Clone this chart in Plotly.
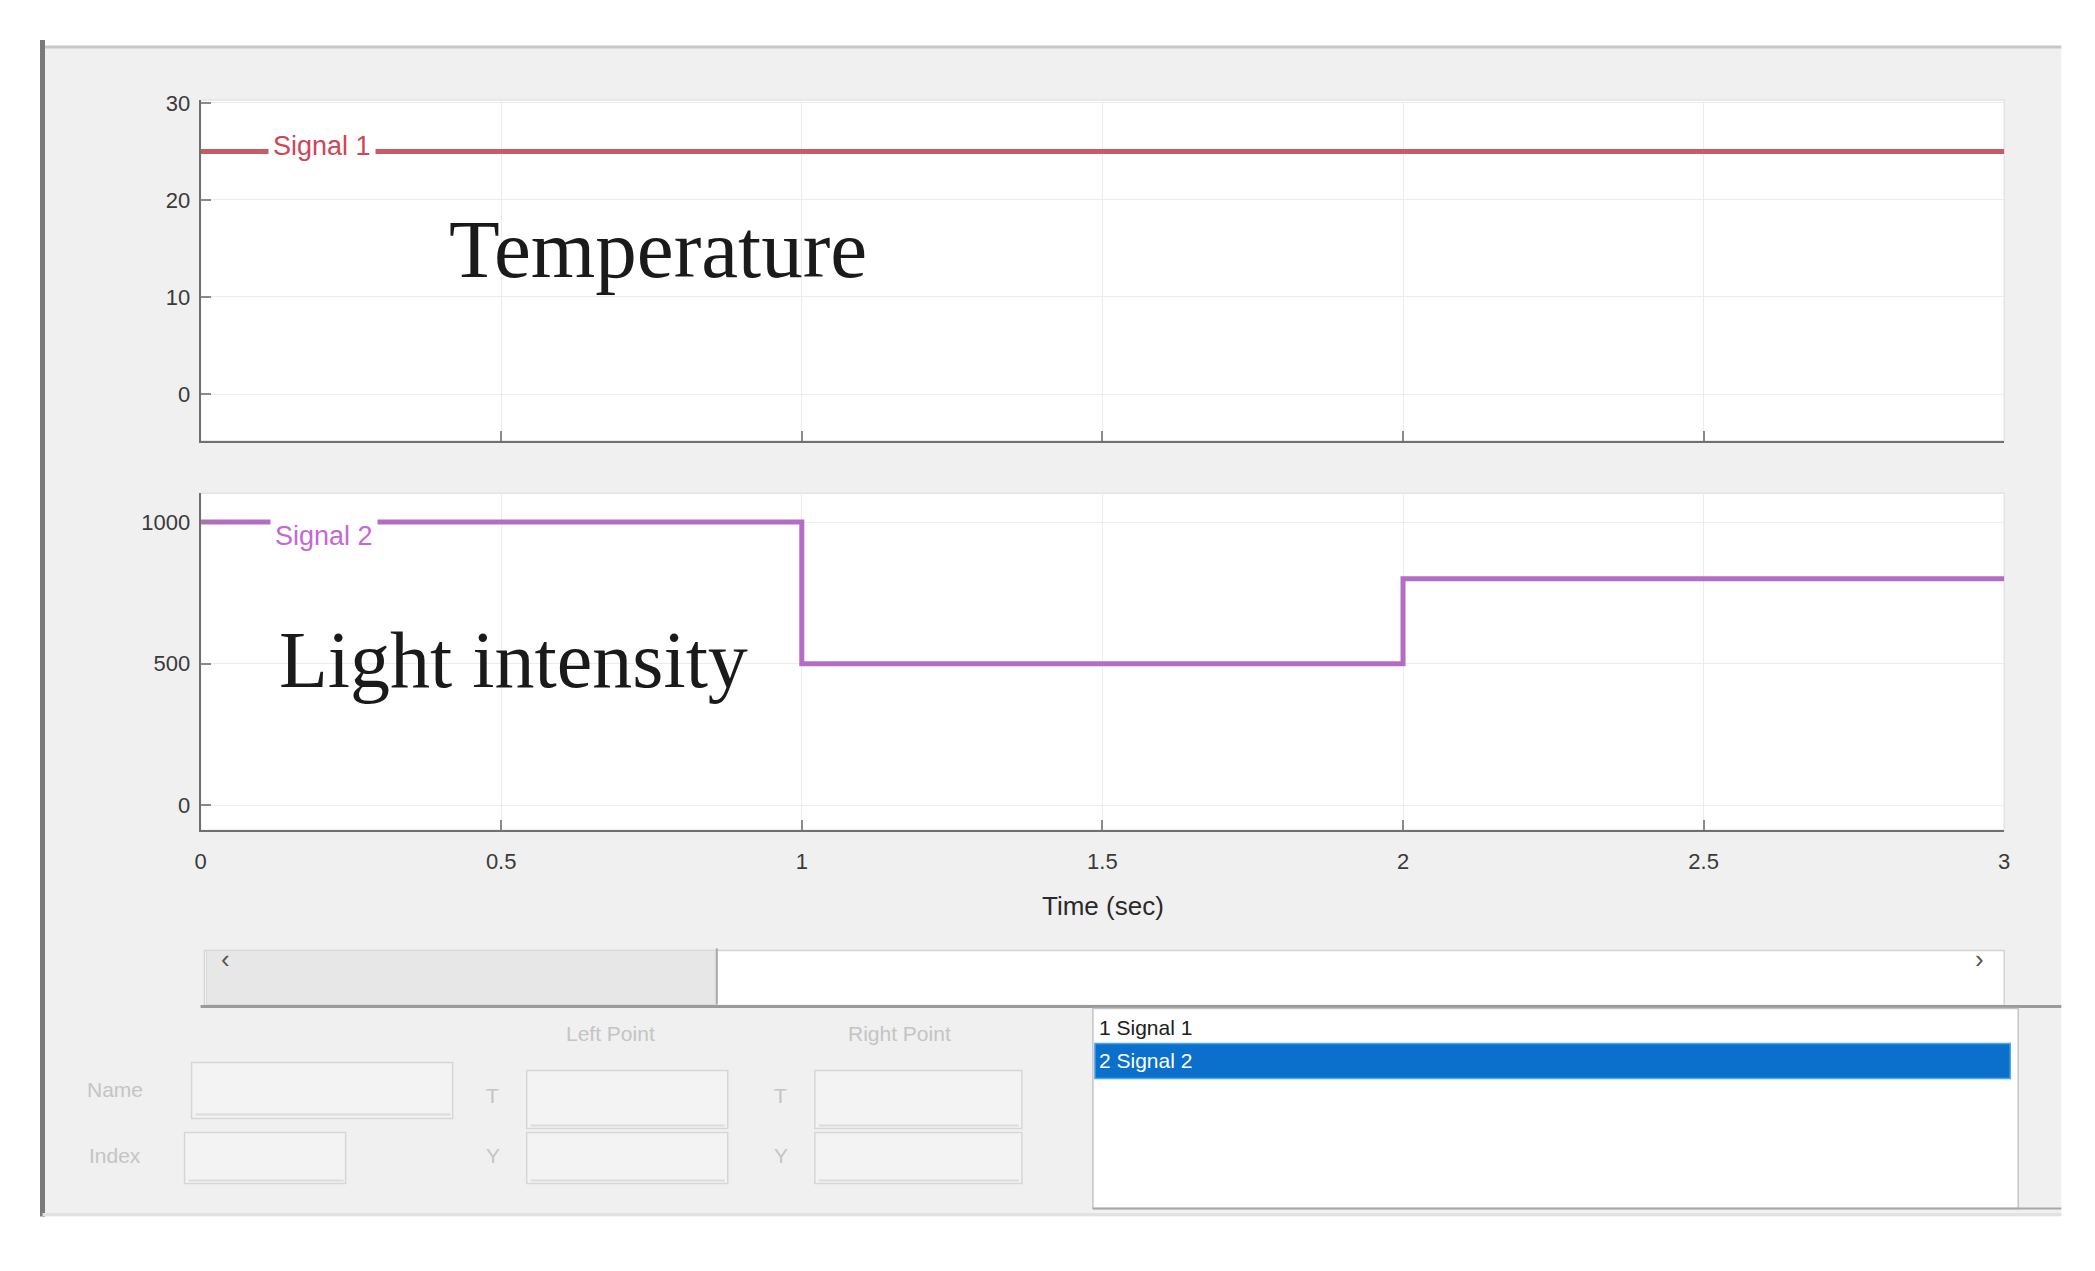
import plotly.graph_objects as go

# ---------------- data ----------------
time_s1 = [0, 3]
temperature = [25, 25]
time_s2 = [0, 1, 2, 3]
light = [1000, 500, 800, 800]

x_ticks = [0, 0.5, 1, 1.5, 2, 2.5, 3]
x_tick_labels = ["0", "0.5", "1", "1.5", "2", "2.5", "3"]
temp_ticks = [0, 10, 20, 30]
temp_tick_labels = ["0", "10", "20", "30"]
light_ticks = [0, 500, 1000]
light_tick_labels = ["0", "500", "1000"]

signal_names = ["Signal 1", "Signal 2"]
list_items = ["1 Signal 1", "2 Signal 2"]

W, H = 2095, 1271
# empirical page placement correction (offset + scale observed in the rendered photo)
AX, SX = 13.5, 0.9939
AY, SY = 17.1, 0.9924


def X(px):
    return ((px - AX) / SX) / W


def Y(py):
    return 1 - ((py - AY) / SY) / H


fig = go.Figure()

fig.add_trace(go.Scatter(x=time_s1, y=temperature, mode="lines", name=signal_names[0],
                         line=dict(color="#c85c66", width=5), xaxis="x", yaxis="y",
                         showlegend=False, hoverinfo="skip"))
fig.add_trace(go.Scatter(x=time_s2, y=light, mode="lines", name=signal_names[1],
                         line=dict(color="#b46cc4", width=5, shape="hv"), xaxis="x2", yaxis="y2",
                         showlegend=False, hoverinfo="skip"))

tick_font = dict(family="Liberation Sans, Arial, sans-serif", size=22, color="#3a3a3a")
axis_common = dict(showgrid=True, gridcolor="#ececec", gridwidth=1, zeroline=False,
                   showline=True, linecolor="#707070", linewidth=2,
                   ticks="inside", ticklen=10, tickcolor="#8a8a8a", tickwidth=1.5,
                   tickfont=tick_font, fixedrange=True)

fig.update_layout(
    width=W, height=H, autosize=False,
    margin=dict(l=0, r=0, t=0, b=0),
    paper_bgcolor="white", plot_bgcolor="white",
    xaxis=dict(domain=[X(200), X(2003)], range=[0, 3], anchor="y",
               tickvals=x_ticks, showticklabels=False, **axis_common),
    yaxis=dict(domain=[Y(441), Y(100)], range=[-4.85, 30.3], anchor="x",
               tickvals=temp_ticks, ticktext=temp_tick_labels, ticklabelstandoff=4, **axis_common),
    xaxis2=dict(domain=[X(200), X(2003)], range=[0, 3], anchor="y2",
                tickvals=x_ticks, ticktext=x_tick_labels, ticklabelstandoff=10, **axis_common),
    yaxis2=dict(domain=[Y(830), Y(493)], range=[-88, 1102], anchor="x2",
                tickvals=light_ticks, ticktext=light_tick_labels, ticklabelstandoff=4, **axis_common),
)

shapes = []
# panel background and borders
shapes.append(dict(type="rect", xref="paper", yref="paper", layer="below",
                   x0=X(42), x1=X(2060), y0=Y(1216), y1=Y(46),
                   fillcolor="#f0f0f0", line=dict(width=0)))
shapes.append(dict(type="line", xref="paper", yref="paper", x0=X(42), x1=X(2060), y0=Y(47), y1=Y(47),
                   line=dict(color="#c8c8c8", width=3)))
shapes.append(dict(type="line", xref="paper", yref="paper", x0=X(42), x1=X(42), y0=Y(40), y1=Y(1216),
                   line=dict(color="#7a7a7a", width=5)))
shapes.append(dict(type="line", xref="paper", yref="paper", x0=X(42), x1=X(2060), y0=Y(1214), y1=Y(1214),
                   line=dict(color="#e2e2e2", width=3)))
# plot backgrounds and light box borders
for (y0, y1) in [(441, 100), (830, 493)]:
    shapes.append(dict(type="rect", xref="paper", yref="paper", layer="below",
                       x0=X(200), x1=X(2003), y0=Y(y0), y1=Y(y1),
                       fillcolor="white", line=dict(color="#e4e4e4", width=1.5)))

# scrollbar
shapes.append(dict(type="rect", xref="paper", yref="paper", x0=X(204), x1=X(2003), y0=Y(1005), y1=Y(950),
                   fillcolor="white", line=dict(color="#d4d4d4", width=1.5)))
shapes.append(dict(type="rect", xref="paper", yref="paper", x0=X(206), x1=X(716), y0=Y(1004), y1=Y(950),
                   fillcolor="#e7e7e7", line=dict(color="#d8d8d8", width=1)))
shapes.append(dict(type="line", xref="paper", yref="paper", x0=X(716), x1=X(716), y0=Y(1004), y1=Y(948),
                   line=dict(color="#a8a8a8", width=2)))
shapes.append(dict(type="line", xref="paper", yref="paper", x0=X(200), x1=X(2060), y0=Y(1006), y1=Y(1006),
                   line=dict(color="#9a9a9a", width=3)))

# listbox
shapes.append(dict(type="rect", xref="paper", yref="paper", x0=X(1092), x1=X(2017), y0=Y(1208), y1=Y(1008),
                   fillcolor="white", line=dict(color="#c4c4c4", width=1.5)))
shapes.append(dict(type="line", xref="paper", yref="paper", x0=X(1092), x1=X(2060), y0=Y(1208), y1=Y(1208),
                   line=dict(color="#a8a8a8", width=2)))
shapes.append(dict(type="rect", xref="paper", yref="paper", x0=X(1094), x1=X(2009), y0=Y(1078), y1=Y(1043),
                   fillcolor="#0a70cc", line=dict(color="#4aa6ee", width=1.5)))

# faint disabled controls
box_line = dict(color="#d6d6d6", width=1.5)
for (x0, x1, y0, y1) in [(191, 452, 1062, 1118), (184, 345, 1132, 1183),
                         (526, 727, 1070, 1128), (526, 727, 1132, 1183),
                         (814, 1021, 1070, 1128), (814, 1021, 1132, 1183)]:
    shapes.append(dict(type="rect", xref="paper", yref="paper", x0=X(x0), x1=X(x1), y0=Y(y1), y1=Y(y0),
                       fillcolor="#f3f3f3", line=box_line))
for (x0, x1, yy) in [(195, 450, 1114), (188, 343, 1180), (530, 724, 1125), (818, 1018, 1125),
                     (530, 724, 1180), (818, 1018, 1180)]:
    shapes.append(dict(type="line", xref="paper", yref="paper", x0=X(x0), x1=X(x1), y0=Y(yy), y1=Y(yy),
                       line=dict(color="#dcdcdc", width=2)))

fig.update_layout(shapes=shapes)

annotations = []
serif = "Liberation Serif, Times New Roman, serif"
annotations.append(dict(text="Temperature", x=X(657), y=Y(249), xref="paper", yref="paper",
                        showarrow=False, xanchor="center", yanchor="middle",
                        font=dict(family=serif, size=83, color="#1a1a1a")))
annotations.append(dict(text="Light intensity", x=X(513), y=Y(660), xref="paper", yref="paper",
                        showarrow=False, xanchor="center", yanchor="middle",
                        font=dict(family=serif, size=80, color="#1a1a1a")))
annotations.append(dict(text=signal_names[0], x=X(321), y=Y(146), xref="paper", yref="paper",
                        showarrow=False, xanchor="center", yanchor="middle", bgcolor="white", borderpad=4,
                        font=dict(family="Liberation Sans, Arial, sans-serif", size=27, color="#d04556")))
annotations.append(dict(text=signal_names[1], x=X(323), y=Y(536), xref="paper", yref="paper",
                        showarrow=False, xanchor="center", yanchor="middle", bgcolor="white", borderpad=4,
                        font=dict(family="Liberation Sans, Arial, sans-serif", size=27, color="#c468d4")))
annotations.append(dict(text="Time (sec)", x=X(1102), y=Y(906), xref="paper", yref="paper",
                        showarrow=False, xanchor="center", yanchor="middle",
                        font=dict(family="Liberation Sans, Arial, sans-serif", size=26, color="#2a2a2a")))

# scroll arrows
annotations.append(dict(text="‹", x=X(218), y=Y(976), xref="paper", yref="paper", showarrow=False,
                        font=dict(family="Liberation Sans, Arial", size=26, color="#555")))
annotations.append(dict(text="›", x=X(1985), y=Y(976), xref="paper", yref="paper", showarrow=False,
                        font=dict(family="Liberation Sans, Arial", size=26, color="#555")))

# listbox items
annotations.append(dict(text=list_items[0], x=X(1096), y=Y(1027), xref="paper", yref="paper", showarrow=False,
                        xanchor="left", yanchor="middle",
                        font=dict(family="Liberation Sans, Arial", size=21, color="#202020")))
annotations.append(dict(text=list_items[1], x=X(1096), y=Y(1060), xref="paper", yref="paper", showarrow=False,
                        xanchor="left", yanchor="middle",
                        font=dict(family="Liberation Sans, Arial", size=21, color="#ffffff")))

# faint control labels
faint = dict(family="Liberation Sans, Arial", size=21, color="#c4c4c4")
for (txt, xx, yy) in [("Left Point", 610, 1033), ("Right Point", 899, 1033),
                      ("Name", 114, 1089), ("Index", 114, 1155),
                      ("T", 492, 1095), ("Y", 492, 1155), ("T", 780, 1095), ("Y", 780, 1155)]:
    annotations.append(dict(text=txt, x=X(xx), y=Y(yy), xref="paper", yref="paper", showarrow=False,
                            xanchor="center", yanchor="middle", font=faint))

fig.update_layout(annotations=annotations)

fig.write_html("out.html")
